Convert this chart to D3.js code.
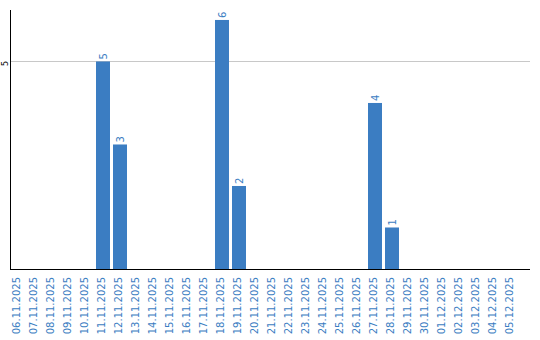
<!DOCTYPE html>
<html>
<head>
<meta charset="utf-8">
<script src="https://cdn.jsdelivr.net/npm/d3@7"></script>
<style>
    body { margin: 0; background: #fff; }
    text { font-family: "DejaVu Sans", Verdana, sans-serif; }
</style>
</head>
<body>
<div id="chart"></div>
<script>
// data
const dates = ["06.11.2025", "07.11.2025", "08.11.2025", "09.11.2025", "10.11.2025",
    "11.11.2025", "12.11.2025", "13.11.2025", "14.11.2025", "15.11.2025",
    "16.11.2025", "17.11.2025", "18.11.2025", "19.11.2025", "20.11.2025",
    "21.11.2025", "22.11.2025", "23.11.2025", "24.11.2025", "25.11.2025",
    "26.11.2025", "27.11.2025", "28.11.2025", "29.11.2025", "30.11.2025",
    "01.12.2025", "02.12.2025", "03.12.2025", "04.12.2025", "05.12.2025"];
const counts = [0, 0, 0, 0, 0, 5, 3, 0, 0, 0, 0, 0, 6, 2, 0, 0, 0, 0, 0, 0, 0, 4, 1, 0, 0, 0, 0, 0, 0, 0];
const yTicks = [5];
const yTop = 6.24;

const blue = "#3b7dc2";
const margin = {top: 10, right: 10, bottom: 71, left: 11};
const totalW = 540, totalH = 340;
const width = totalW - margin.left - margin.right;
const height = totalH - margin.top - margin.bottom;

const svg = d3.select("#chart").append("svg")
    .attr("width", totalW)
    .attr("height", totalH)
    .append("g")
    .attr("transform", `translate(${margin.left},${margin.top})`);

const data = dates.map((d, i) => ({date: d, value: counts[i]}));

// scales
const x = d3.scaleBand()
    .domain(dates)
    .range([0, 17 * (dates.length - 3 / 17)])
    .paddingInner(3 / 17)
    .paddingOuter(0);

const y = d3.scaleLinear()
    .domain([0, yTop])
    .range([height, 0]);

// grid lines
svg.selectAll(".grid")
    .data(yTicks)
    .enter()
    .append("line")
    .attr("class", "grid")
    .attr("x1", 0)
    .attr("x2", width)
    .attr("y1", d => Math.round(y(d)) + 0.5)
    .attr("y2", d => Math.round(y(d)) + 0.5)
    .attr("stroke", "#c8c8c8")
    .attr("stroke-width", 1);

// bars
svg.selectAll(".bar")
    .data(data.filter(d => d.value > 0))
    .enter()
    .append("rect")
    .attr("class", "bar")
    .attr("x", d => x(d.date))
    .attr("y", d => y(d.value))
    .attr("width", x.bandwidth())
    .attr("height", d => height - y(d.value))
    .attr("fill", blue);

// value labels
svg.selectAll(".val")
    .data(data.filter(d => d.value > 0))
    .enter()
    .append("text")
    .attr("class", "val")
    .attr("transform", d => `translate(${x(d.date) + x.bandwidth() / 2},${y(d.value) - 2})rotate(-90)`)
    .attr("dy", "0.35em")
    .attr("text-anchor", "start")
    .attr("fill", blue)
    .style("font-size", "10px")
    .text(d => d.value);

// x axis
const xAxis = d3.axisBottom(x).tickSize(0);
const xg = svg.append("g")
    .attr("class", "x-axis")
    .attr("transform", `translate(0,${height})`)
    .call(xAxis);
xg.select(".domain").remove();
xg.selectAll("text")
    .attr("transform", "rotate(-90)")
    .attr("x", -8)
    .attr("y", -2)
    .attr("dy", "0.35em")
    .attr("text-anchor", "end")
    .attr("fill", blue)
    .style("font-size", "10px")
    .style("font-family", "DejaVu Sans");

// y axis
const yg = svg.append("g").attr("class", "y-axis");
yg.selectAll(".ytick")
    .data(yTicks)
    .enter()
    .append("text")
    .attr("class", "ytick")
    .attr("transform", d => `translate(-6,${y(d) + 2})rotate(-90)`)
    .attr("text-anchor", "middle")
    .attr("dy", "0.35em")
    .attr("fill", "#000")
    .style("font-size", "8px")
    .text(d => d);

// axis lines
svg.append("line")
    .attr("x1", -0.5).attr("x2", -0.5)
    .attr("y1", 0).attr("y2", height)
    .attr("stroke", "#000");
svg.append("line")
    .attr("x1", -1).attr("x2", width)
    .attr("y1", height + 0.5).attr("y2", height + 0.5)
    .attr("stroke", "#000");
</script>
</body>
</html>
